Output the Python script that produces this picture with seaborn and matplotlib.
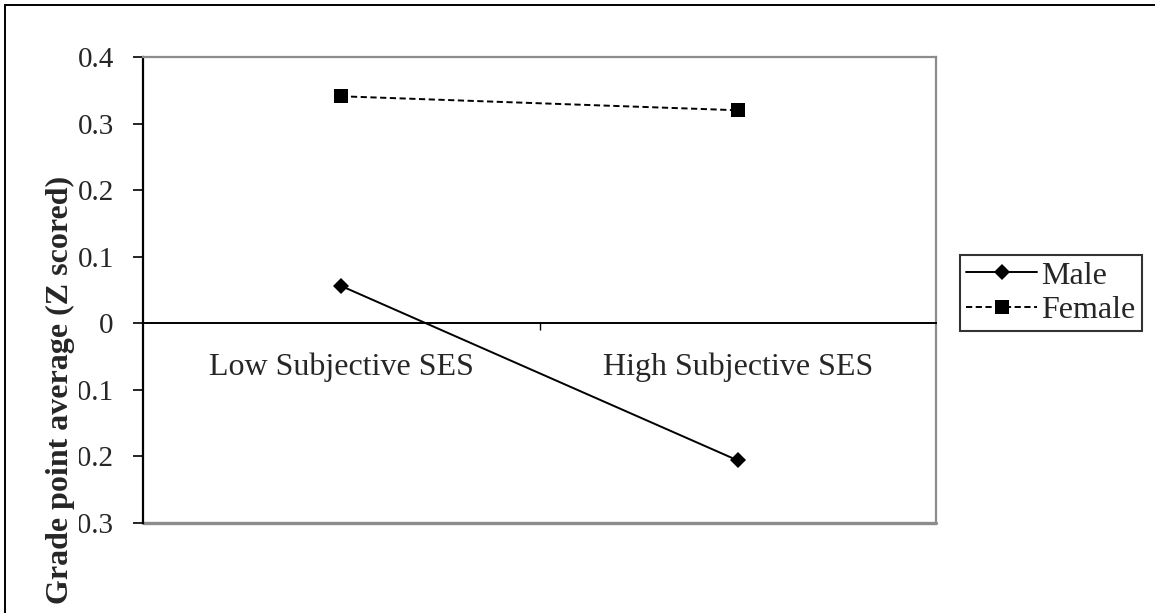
import pandas as pd
import seaborn as sns
import matplotlib.pyplot as plt
from matplotlib.lines import Line2D

#%% Data
categories = ['Low Subjective SES', 'High Subjective SES']
male = [0.056, -0.206]
female = [0.341, 0.320]
y_ticks = [-0.3, -0.2, -0.1, 0, 0.1, 0.2, 0.3, 0.4]
y_tick_labels = ['-0.3', '-0.2', '-0.1', '0', '0.1', '0.2', '0.3', '0.4']

df = pd.DataFrame({'SES': categories * 2,
                   'GPA': male + female,
                   'Sex': ['Male'] * 2 + ['Female'] * 2})

#%% Plot
sns.set_style('white')
plt.rcParams['font.family'] = ['Liberation Serif', 'DejaVu Serif']

fig = plt.figure(figsize=(11.55, 6.13), dpi=100)
ax = fig.add_axes([0.1238, 0.1468, 0.8104 - 0.1238, 0.907 - 0.1468])

sns.lineplot(data=df, x='SES', y='GPA', hue='Sex', style='Sex',
             palette={'Male': 'black', 'Female': 'black'},
             markers={'Male': 'D', 'Female': 's'},
             dashes={'Male': '', 'Female': (3.2, 1.8)},
             linewidth=1.4, markersize=9.5, markeredgewidth=0,
             sort=False, ax=ax)
for line in ax.lines:
    if line.get_marker() == 'D':
        line.set_markersize(8)

ax.set_xlim(-0.5, 1.5)
ax.set_ylim(-0.3, 0.4)
ax.set_yticks(y_ticks)
ax.set_yticklabels(y_tick_labels)
ax.tick_params(axis='y', direction='out', length=7, width=1.2, pad=14,
               labelsize=21, left=True, color='black')

# x axis at zero, category labels as minor ticks
ax.spines['bottom'].set_position(('data', 0))
ax.spines['bottom'].set_color('black')
ax.spines['bottom'].set_linewidth(1.4)
ax.spines['left'].set_color('black')
ax.spines['left'].set_linewidth(1.6)
for s in ['top', 'right']:
    ax.spines[s].set_color('#8c8c8c')
    ax.spines[s].set_linewidth(1.6)
ax.axhline(-0.3, color='#8c8c8c', linewidth=2.4, clip_on=False, zorder=0)

ax.set_xticks([0.5])
ax.set_xticklabels([''])
ax.set_xticks([0, 1], minor=True)
ax.set_xticklabels(categories, minor=True)
ax.tick_params(axis='x', which='major', direction='out', length=5,
               width=1, bottom=True, color='black')
ax.tick_params(axis='x', which='minor', length=0, pad=21, labelsize=23)
ax.set_xlabel('')
ax.set_ylabel('')

# axis title drawn over the tick labels, as in the original (it hides the minus signs)
fig.text(0.0525, 0.364, 'Grade point average (Z scored)', rotation=90,
         fontsize=23, fontweight='bold', ha='center', va='center',
         bbox=dict(facecolor='white', edgecolor='none', pad=2.5), zorder=5)

handles, labels = ax.get_legend_handles_labels()
leg = ax.legend(handles, labels, loc='center left',
                bbox_to_anchor=(0.8312, 0.522), bbox_transform=fig.transFigure,
                fontsize=23, frameon=True, fancybox=False, handlelength=2.2,
                handletextpad=0.15, borderpad=0.2, labelspacing=0.15,
                borderaxespad=0)
leg.get_frame().set_edgecolor('black')
leg.get_frame().set_linewidth(1.5)

# outer frame of the picture (top and left)
fig.add_artist(Line2D([5 / 1155, 1], [608 / 613, 608 / 613],
                      color='black', linewidth=1.4, transform=fig.transFigure))
fig.add_artist(Line2D([5 / 1155, 5 / 1155], [0, 608 / 613],
                      color='black', linewidth=1.4, transform=fig.transFigure))

plt.savefig('out.png', dpi=100)
